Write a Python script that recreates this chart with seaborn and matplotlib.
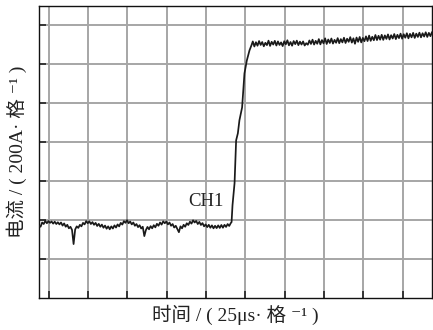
import numpy as np
import pandas as pd
import matplotlib
matplotlib.use("Agg")
import matplotlib.pyplot as plt
import seaborn as sns

# oscilloscope trace, time in us (25 us / div), current in A (200 A / div)
base_t = np.arange(0, 123)
base_i = [372, 366, 388, 380, 396, 384, 395, 386, 393, 382, 392, 380, 389, 378, 388, 372,
          383, 366, 376, 358, 366, 350, 277, 352, 368, 360, 376, 368, 386, 378, 395, 384,
          394, 380, 390, 376, 386, 370, 381, 366, 377, 361, 372, 356, 368, 353, 368, 357,
          373, 362, 378, 368, 386, 377, 395, 386, 400, 384, 393, 378, 388, 371, 380, 364,
          374, 357, 366, 318, 349, 365, 353, 369, 358, 374, 363, 381, 371, 388, 377, 394,
          384, 393, 378, 388, 371, 380, 362, 371, 355, 338, 368, 358, 376, 366, 384, 375,
          392, 382, 399, 388, 396, 380, 391, 375, 385, 368, 378, 364, 376, 361, 373, 358,
          371, 359, 373, 360, 375, 361, 376, 365, 380, 370, 385]

rise_t = [122.5, 123.1, 124.4, 125.4, 126.5, 127.5, 129.2, 130.7, 132.2, 133.9, 135.1]
rise_i = [390, 477, 590, 810, 846, 913, 979, 1154, 1220, 1272, 1297]

top_t = np.arange(136, 251)
top_i = [1318, 1292, 1314, 1296, 1320, 1300, 1315, 1293, 1311, 1299, 1322, 1295, 1316, 1302,
         1321, 1297, 1318, 1300, 1313, 1294, 1319, 1303, 1324, 1298, 1315, 1296, 1320, 1304,
         1322, 1299, 1317, 1302, 1318, 1297, 1309, 1301, 1323, 1305, 1327, 1302, 1321, 1306,
         1330, 1303, 1325, 1308, 1334, 1305, 1328, 1310, 1333, 1307, 1326, 1311, 1335, 1309,
         1330, 1313, 1337, 1310, 1332, 1316, 1340, 1312, 1334, 1306, 1338, 1316, 1341, 1313,
         1336, 1319, 1344, 1320, 1348, 1321, 1342, 1324, 1351, 1325, 1347, 1327, 1352, 1326,
         1349, 1331, 1354, 1328, 1350, 1333, 1356, 1330, 1352, 1335, 1358, 1332, 1355, 1337,
         1360, 1334, 1357, 1339, 1362, 1336, 1358, 1341, 1363, 1339, 1360, 1343, 1365, 1341,
         1362, 1345, 1366]

x_grid = [6.25, 31.25, 56.25, 81.25, 106.25, 131.25, 156.25, 181.25, 206.25, 231.25]
y_grid = [200, 400, 600, 800, 1000, 1200, 1400]

df = pd.DataFrame({
    "t": np.concatenate([base_t, rise_t, top_t]),
    "i": np.concatenate([base_i, rise_i, top_i]),
})

sns.set_style("white")
plt.rcParams["font.family"] = ["Liberation Serif", "Noto Sans CJK SC", "DejaVu Sans"]

fig = plt.figure(figsize=(4.33, 3.30), dpi=100)
ax = fig.add_axes([39 / 433, 32 / 330, 393 / 433, 292 / 330])

sns.lineplot(data=df, x="t", y="i", ax=ax, color="#1a1a1a", linewidth=1.25,
             estimator=None, sort=False, zorder=3)

ax.set_xlim(0, 250)
ax.set_ylim(0, 1500)
ax.set_xticks(x_grid)
ax.set_yticks(y_grid)
ax.set_xticklabels([])
ax.set_yticklabels([])
ax.grid(True, color="#a6a6a6", linewidth=1.4)
ax.tick_params(direction="in", length=5, width=1.2, color="#222222",
               bottom=True, left=True)
for s in ax.spines.values():
    s.set_color("#111111")
    s.set_linewidth(1.0)

ax.text(106.5, 497, "CH1", fontsize=13.5, ha="center", va="center", color="#222222")

ax.set_xlabel("时间 / ( 25μs· 格 ⁻¹ )", fontsize=14, labelpad=1, color="#222222")
ax.set_ylabel("电流 / ( 200A· 格 ⁻¹ )", fontsize=14, labelpad=5, color="#222222")

fig.savefig("out.png", dpi=100)
